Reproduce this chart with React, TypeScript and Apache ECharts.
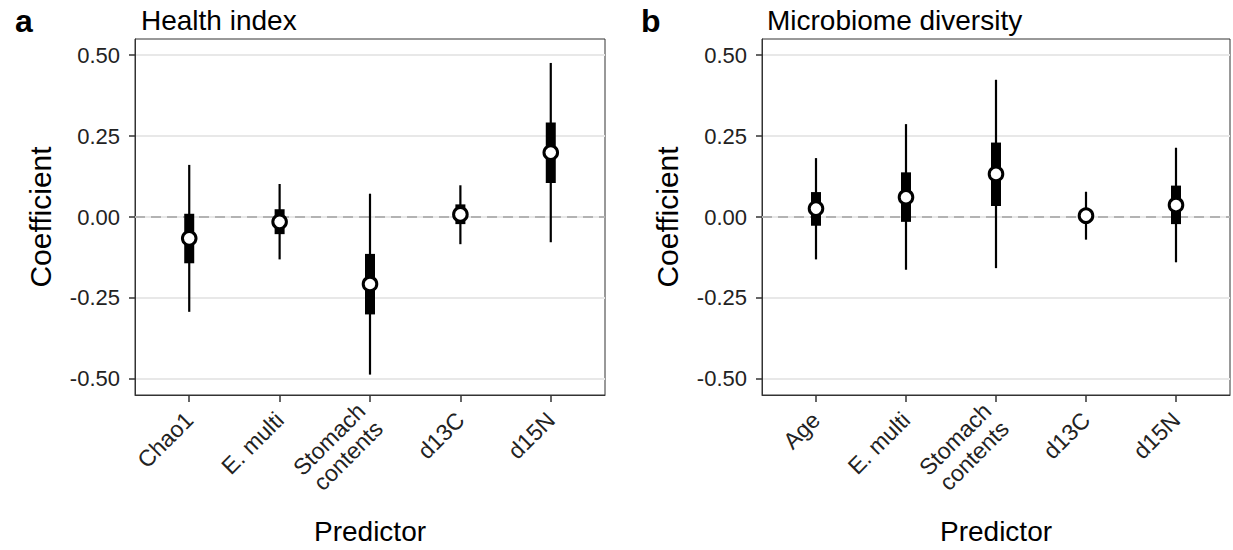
import React, { useEffect, useRef } from "react";
import * as echarts from "echarts";

// Panel a: Health index
const categoriesA = ["Chao1", "E. multi", "Stomach\ncontents", "d13C", "d15N"];
const estA = [-0.066, -0.015, -0.207, 0.008, 0.199];
const lo95A = [-0.293, -0.131, -0.487, -0.084, -0.078];
const hi95A = [0.161, 0.102, 0.072, 0.098, 0.476];
const lo50A = [-0.143, -0.053, -0.301, -0.022, 0.105];
const hi50A = [0.01, 0.024, -0.114, 0.039, 0.292];

// Panel b: Microbiome diversity
const categoriesB = ["Age", "E. multi", "Stomach\ncontents", "d13C", "d15N"];
const estB = [0.026, 0.061, 0.133, 0.004, 0.037];
const lo95B = [-0.131, -0.163, -0.158, -0.07, -0.14];
const hi95B = [0.182, 0.287, 0.424, 0.078, 0.214];
const lo50B = [-0.027, -0.015, 0.034, -0.014, -0.022];
const hi50B = [0.077, 0.138, 0.23, 0.022, 0.097];

const yTicks = [-0.5, -0.25, 0, 0.25, 0.5];
const xPositions = [1, 2, 3, 4, 5];

const FONT = "Liberation Sans";

function buildData(est: number[], lo95: number[], hi95: number[], lo50: number[], hi50: number[]) {
  return est.map((e, i) => [i + 1, lo95[i], hi95[i], lo50[i], hi50[i], e]);
}

const renderItem = (params: any, api: any) => {
  const x = api.value(0);
  const p = api.coord([x, api.value(5)]);
  const l95 = api.coord([x, api.value(1)]);
  const h95 = api.coord([x, api.value(2)]);
  const l50 = api.coord([x, api.value(3)]);
  const h50 = api.coord([x, api.value(4)]);
  return {
    type: "group",
    children: [
      {
        type: "line",
        shape: { x1: p[0], y1: h95[1], x2: p[0], y2: l95[1] },
        style: { stroke: "#000", lineWidth: 2.2 },
      },
      {
        type: "rect",
        shape: { x: p[0] - 5, y: h50[1], width: 10, height: l50[1] - h50[1] },
        style: { fill: "#000" },
      },
      {
        type: "circle",
        shape: { cx: p[0], cy: p[1], r: 6.8 },
        style: { fill: "#fff", stroke: "#000", lineWidth: 3 },
      },
    ],
  };
};

function xAxisFor(cats: string[], gridIndex: number) {
  return {
    type: "value",
    gridIndex,
    min: 0.4,
    max: 5.6,
    name: "Predictor",
    nameLocation: "middle",
    nameGap: 122,
    nameTextStyle: { fontFamily: FONT, fontSize: 28, color: "#000" },
    axisLine: { show: true, onZero: false, lineStyle: { color: "#333", width: 1 } },
    axisTick: { show: true, customValues: xPositions, length: 7, lineStyle: { color: "#333", width: 1.5 } },
    axisLabel: {
      customValues: xPositions,
      rotate: 45,
      margin: 21,
      fontFamily: FONT,
      fontSize: 23,
      color: "#222",
      lineHeight: 25,
      formatter: (v: number) => cats[Math.round(v) - 1] ?? "",
    },
    splitLine: { show: false },
  };
}

function yAxisFor(gridIndex: number) {
  return {
    type: "value",
    gridIndex,
    min: -0.55,
    max: 0.55,
    name: "Coefficient",
    nameLocation: "middle",
    nameGap: 80,
    nameTextStyle: { fontFamily: FONT, fontSize: 30, color: "#000" },
    axisLine: { show: true, onZero: false, lineStyle: { color: "#333", width: 1 } },
    axisTick: { show: true, customValues: yTicks, length: 6, lineStyle: { color: "#333", width: 1.5 } },
    axisLabel: {
      customValues: yTicks,
      margin: 15,
      fontFamily: FONT,
      fontSize: 22,
      color: "#222",
      formatter: (v: number) => v.toFixed(2),
    },
    splitLine: { show: true, lineStyle: { color: "#e8e8e8", width: 2 } },
  };
}

function zeroLine(idx: number) {
  return {
    type: "line",
    xAxisIndex: idx,
    yAxisIndex: idx,
    data: [
      [0.4, 0],
      [5.6, 0],
    ],
    symbol: "none",
    silent: true,
    z: 1,
    lineStyle: { color: "#b3b3b3", width: 2, type: [10, 6] },
  };
}

export default function App() {
  const ref = useRef<HTMLDivElement>(null);
  useEffect(() => {
    if (!ref.current) return;
    const chart = echarts.init(ref.current, undefined, { renderer: "svg" });
    chart.setOption({
      animation: false,
      backgroundColor: "#fff",
      textStyle: { fontFamily: FONT },
      title: [
        { text: "Health index", left: 136, top: 1, textStyle: { fontFamily: FONT, fontSize: 28, fontWeight: "normal", color: "#000" } },
        { text: "Microbiome diversity", left: 762, top: 1, textStyle: { fontFamily: FONT, fontSize: 28, fontWeight: "normal", color: "#000" } },
        { text: "a", left: 10, top: 0, textStyle: { fontFamily: FONT, fontSize: 32, fontWeight: "bold", color: "#000" } },
        { text: "b", left: 636, top: 0, textStyle: { fontFamily: FONT, fontSize: 32, fontWeight: "bold", color: "#000" } },
      ],
      grid: [
        { left: 135, top: 39, width: 470, height: 358, show: true, borderColor: "#333", borderWidth: 1, backgroundColor: "#fff" },
        { left: 762, top: 39, width: 468, height: 358, show: true, borderColor: "#333", borderWidth: 1, backgroundColor: "#fff" },
      ],
      xAxis: [xAxisFor(categoriesA, 0), xAxisFor(categoriesB, 1)],
      yAxis: [yAxisFor(0), yAxisFor(1)],
      series: [
        zeroLine(0),
        zeroLine(1),
        {
          type: "custom",
          xAxisIndex: 0,
          yAxisIndex: 0,
          z: 3,
          renderItem,
          data: buildData(estA, lo95A, hi95A, lo50A, hi50A),
        },
        {
          type: "custom",
          xAxisIndex: 1,
          yAxisIndex: 1,
          z: 3,
          renderItem,
          data: buildData(estB, lo95B, hi95B, lo50B, hi50B),
        },
      ],
    });
    return () => chart.dispose();
  }, []);
  return <div ref={ref} style={{ width: 1233, height: 550, position: "absolute", left: 0, top: 0 }} />;
}
